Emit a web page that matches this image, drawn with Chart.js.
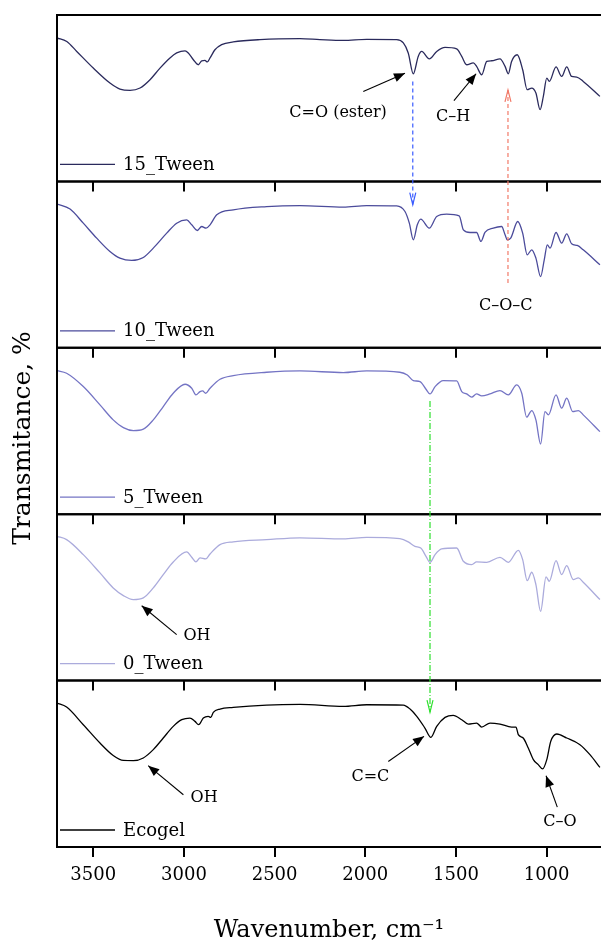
<!DOCTYPE html>
<html>
<head>
<meta charset="utf-8">
<script src="https://cdn.jsdelivr.net/npm/chart.js@4.4.1/dist/chart.umd.min.js"></script>
<style>
  html, body { margin: 0; padding: 0; background: #fff; overflow: hidden; }
  canvas { display: block; }
</style>
</head>
<body>
<canvas id="ftir" width="601" height="945"></canvas>
<script>
// x ticks (wavenumber, cm-1)
const xTicks = [3500, 3000, 2500, 2000, 1500, 1000];

const seriesNames = ["15_Tween", "10_Tween", "5_Tween", "0_Tween", "Ecogel"];
const seriesColors = ["#2a2a5c", "#4b4b9b", "#7474c4", "#ababdc", "#000000"];

// transmittance (0 = panel bottom, 100 = panel top)
const wn15 = [3700, 3646, 3591, 3500, 3408, 3353, 3297, 3242, 3187, 3132, 3077, 3040, 2994, 2976, 2948, 2921, 2902, 2884, 2871, 2856, 2829, 2792, 2728, 2581, 2360, 2250, 2121, 1992, 1827, 1790, 1763, 1735, 1708, 1689, 1647, 1606, 1560, 1496, 1468, 1441, 1404, 1386, 1358, 1330, 1303, 1257, 1229, 1211, 1193, 1162, 1132, 1107, 1082, 1059, 1036, 1018, 999, 985, 948, 917, 889, 862, 834, 798, 706];
const t15 = [86.2, 84.1, 78.1, 68.1, 59.1, 55.5, 54.7, 56.1, 61.1, 68.1, 74.2, 77.2, 78.5, 77.2, 73.1, 70.1, 72.5, 72.7, 71.8, 74.2, 79.1, 82.2, 83.8, 85.2, 85.8, 85.2, 84.7, 85.3, 85.2, 83.2, 77.2, 64.7, 75.1, 78.1, 73.6, 78.1, 80.5, 79.6, 75.1, 70.1, 71.2, 69.1, 64.1, 72.1, 72.5, 73.6, 69.1, 64.7, 72.1, 76.1, 67.1, 55.1, 56.1, 53.1, 43.1, 51.1, 62.1, 60.1, 68.8, 63.1, 68.8, 63.1, 62.7, 60.1, 51.1];

const wn10 = [3700, 3628, 3555, 3481, 3408, 3353, 3288, 3224, 3169, 3095, 3040, 2985, 2957, 2926, 2902, 2878, 2856, 2819, 2728, 2544, 2360, 2121, 1992, 1827, 1781, 1757, 1735, 1713, 1694, 1647, 1606, 1551, 1482, 1459, 1422, 1386, 1362, 1340, 1294, 1248, 1229, 1217, 1198, 1159, 1132, 1107, 1082, 1059, 1033, 1013, 996, 981, 948, 917, 889, 862, 831, 798, 706];
const t10 = [86.4, 83.4, 74.9, 65.9, 57.9, 53.9, 52.5, 54.3, 59.9, 68.9, 74.9, 76.9, 73.9, 70.5, 72.9, 71.9, 73.9, 79.9, 82.9, 84.9, 85.5, 84.6, 85.5, 85.3, 81.9, 74.9, 64.9, 73.9, 77.3, 71.9, 78.9, 80.3, 79.3, 70.9, 69.3, 69.3, 63.9, 69.3, 71.9, 72.9, 67.9, 64.9, 65.9, 75.9, 68.9, 55.9, 58.9, 53.9, 42.8, 52.9, 61.9, 59.9, 69.3, 62.9, 68.5, 62.5, 61.5, 58.9, 49.9];

const wn5 = [3700, 3647, 3555, 3463, 3390, 3334, 3279, 3224, 3169, 3114, 3059, 2994, 2957, 2934, 2911, 2897, 2880, 2856, 2801, 2728, 2544, 2360, 2121, 1992, 1809, 1768, 1735, 1698, 1665, 1643, 1615, 1570, 1496, 1468, 1441, 1413, 1386, 1358, 1312, 1257, 1211, 1165, 1137, 1110, 1082, 1059, 1033, 1009, 990, 948, 917, 889, 856, 825, 798, 706];
const t5 = [86.3, 84.7, 76.7, 65.7, 56.7, 52.0, 50.2, 51.1, 56.7, 64.7, 72.7, 78.1, 75.7, 71.7, 73.7, 74.1, 72.7, 75.7, 81.1, 83.3, 85.3, 86.1, 85.1, 86.1, 85.3, 83.7, 80.3, 79.7, 75.1, 72.3, 76.7, 80.3, 80.1, 73.7, 72.3, 70.3, 72.3, 71.1, 72.3, 74.3, 71.7, 77.7, 72.7, 58.3, 62.3, 56.7, 42.2, 61.7, 59.7, 71.7, 63.7, 69.7, 61.7, 62.3, 59.7, 49.6];

const wn0 = [3700, 3647, 3555, 3463, 3390, 3334, 3279, 3224, 3169, 3114, 3059, 2985, 2957, 2934, 2911, 2880, 2856, 2801, 2728, 2544, 2360, 2121, 1992, 1809, 1763, 1726, 1694, 1665, 1643, 1615, 1579, 1496, 1459, 1413, 1386, 1330, 1257, 1211, 1156, 1132, 1107, 1082, 1059, 1033, 1003, 985, 948, 917, 889, 853, 825, 798, 706];
const t0 = [86.7, 84.7, 75.7, 64.7, 55.7, 51.1, 48.7, 49.7, 55.7, 63.7, 71.3, 77.3, 74.1, 71.3, 73.7, 73.1, 76.1, 81.7, 83.4, 84.7, 85.8, 85.2, 86.1, 85.3, 83.4, 80.7, 79.7, 74.7, 71.1, 75.7, 79.1, 79.7, 71.7, 69.7, 71.3, 71.1, 74.1, 71.1, 78.3, 72.7, 60.1, 65.1, 57.7, 41.6, 62.3, 59.7, 72.1, 63.7, 69.1, 60.7, 61.7, 59.1, 48.7];

const wnEco = [3700, 3647, 3555, 3463, 3390, 3334, 3279, 3224, 3169, 3114, 3059, 3012, 2967, 2939, 2919, 2893, 2866, 2852, 2838, 2801, 2728, 2544, 2360, 2121, 1992, 1790, 1753, 1716, 1671, 1638, 1606, 1560, 1515, 1468, 1432, 1386, 1358, 1312, 1257, 1193, 1169, 1156, 1129, 1101, 1073, 1046, 1022, 999, 977, 944, 889, 816, 761, 706];
const tEco = [86.5, 84.1, 73.5, 62.5, 55.0, 52.0, 51.9, 53.5, 58.5, 65.5, 72.5, 76.5, 77.5, 75.5, 73.5, 77.5, 78.5, 77.9, 80.9, 82.9, 83.9, 85.3, 85.7, 84.5, 85.5, 85.3, 82.9, 78.5, 71.5, 65.9, 72.5, 77.9, 79.1, 76.5, 73.9, 74.5, 72.1, 74.5, 73.9, 72.1, 72.1, 67.5, 65.5, 59.5, 52.5, 49.5, 46.9, 52.5, 63.5, 67.9, 65.5, 61.5, 55.5, 47.8];

const panelIds = ["y15", "y10", "y5", "y0", "yE"];
const wnSets = [wn15, wn10, wn5, wn0, wnEco];
const tSets = [t15, t10, t5, t0, tEco];

// band labels: text centre and arrow (tail -> tip), in wavenumber / panel units
const bandLabels = [
  { panel: "y15", text: "C=O (ester)", x: 2150, y: 41, tail: [2011, 54], tip: [1781, 65] },
  { panel: "y15", text: "C\u2013H", x: 1516, y: 39, tail: [1511, 48.5], tip: [1389, 64.7] },
  { panel: "y10", text: "C\u2013O\u2013C", x: 1225, y: 25 },
  { panel: "y0", text: "OH", x: 2928, y: 27, tail: [3040, 27.6], tip: [3233, 45] },
  { panel: "yE", text: "OH", x: 2889, y: 29.4, tail: [3003, 31.4], tip: [3197, 48.9] },
  { panel: "yE", text: "C=C", x: 1972, y: 42, tail: [1873, 51.4], tip: [1676, 66.5] },
  { panel: "yE", text: "C\u2013O", x: 926, y: 15.4, tail: [941, 24], tip: [1003, 42.8] }
];

// dashed guide lines between panels
const guideLines = [
  { x: 1738, from: ["y15", 60], to: ["y10", 86], color: "#3a5cff", dash: [4, 3] },
  { x: 1213, from: ["y10", 39], to: ["y15", 55], color: "#f27a68", dash: [4, 3] },
  { x: 1643, from: ["y5", 68], to: ["yE", 81], color: "#2ee02e", dash: [6, 2, 1, 2] }
];

const FONT = "DejaVu Serif";

function drawHead(ctx, x1, y1, x2, y2, len, half, filled) {
  const a = Math.atan2(y2 - y1, x2 - x1);
  const bx = x2 - len * Math.cos(a), by = y2 - len * Math.sin(a);
  const px = -Math.sin(a) * half, py = Math.cos(a) * half;
  ctx.beginPath();
  ctx.moveTo(bx + px, by + py);
  ctx.lineTo(x2, y2);
  ctx.lineTo(bx - px, by - py);
  if (filled) {
    ctx.closePath();
    ctx.fill();
  } else {
    ctx.stroke();
  }
}

const panelPlugin = {
  id: "panelFrames",
  afterDraw(chart) {
    const ctx = chart.ctx;
    const xs = chart.scales.x;
    const area = chart.chartArea;
    ctx.save();

    // frames, inner ticks, legends
    panelIds.forEach((id, i) => {
      const s = chart.scales[id];
      ctx.strokeStyle = "#000";
      ctx.lineWidth = 2;
      ctx.setLineDash([]);
      ctx.beginPath();
      ctx.moveTo(area.right + 3, s.top);
      ctx.lineTo(area.left, s.top);
      ctx.lineTo(area.left, s.bottom);
      ctx.lineTo(area.right + 3, s.bottom);
      ctx.stroke();
      if (i < panelIds.length - 1) {
        ctx.beginPath();
        xTicks.forEach(v => {
          const px = Math.round(xs.getPixelForValue(v));
          ctx.moveTo(px, s.bottom);
          ctx.lineTo(px, s.bottom + 10);
        });
        ctx.stroke();
      }
      const ds = chart.data.datasets[i];
      const ly = s.bottom - 17;
      ctx.strokeStyle = ds.borderColor;
      ctx.lineWidth = 1.3;
      ctx.beginPath();
      ctx.moveTo(area.left + 3, ly);
      ctx.lineTo(area.left + 58, ly);
      ctx.stroke();
      ctx.fillStyle = "#000";
      ctx.font = "18px '" + FONT + "'";
      ctx.textAlign = "left";
      ctx.textBaseline = "middle";
      ctx.fillText(ds.label, area.left + 66, ly + 1);
    });

    // guide lines
    guideLines.forEach(g => {
      const px = xs.getPixelForValue(g.x);
      const y1 = chart.scales[g.from[0]].getPixelForValue(g.from[1]);
      const y2 = chart.scales[g.to[0]].getPixelForValue(g.to[1]);
      ctx.strokeStyle = g.color;
      ctx.lineWidth = 1.2;
      ctx.setLineDash(g.dash);
      ctx.beginPath();
      ctx.moveTo(px, y1);
      ctx.lineTo(px, y2);
      ctx.stroke();
      ctx.setLineDash([]);
      drawHead(ctx, px, y1, px, y2, 12, 3, false);
    });

    // band labels and arrows
    ctx.fillStyle = "#000";
    ctx.strokeStyle = "#000";
    ctx.font = "16px '" + FONT + "'";
    ctx.textAlign = "center";
    ctx.textBaseline = "middle";
    bandLabels.forEach(b => {
      const ys = chart.scales[b.panel];
      ctx.fillText(b.text, xs.getPixelForValue(b.x), ys.getPixelForValue(b.y));
      if (b.tail) {
        const x1 = xs.getPixelForValue(b.tail[0]), y1 = ys.getPixelForValue(b.tail[1]);
        const x2 = xs.getPixelForValue(b.tip[0]), y2 = ys.getPixelForValue(b.tip[1]);
        ctx.lineWidth = 1.1;
        ctx.beginPath();
        ctx.moveTo(x1, y1);
        ctx.lineTo(x2, y2);
        ctx.stroke();
        drawHead(ctx, x1, y1, x2, y2, 11, 4.5, true);
      }
    });

    // y title
    ctx.font = "25px '" + FONT + "'";
    ctx.translate(23, (area.top + area.bottom) / 2 + 7);
    ctx.rotate(-Math.PI / 2);
    ctx.fillText("Transmitance, %", 0, 0);
    ctx.restore();
  }
};

const yPanel = () => ({
  type: "linear",
  display: false,
  stack: "panels",
  stackWeight: 1,
  min: 0,
  max: 100
});

const datasets = seriesNames.map((name, i) => ({
  label: name,
  data: wnSets[i].map((w, j) => ({ x: w, y: tSets[i][j] })),
  yAxisID: panelIds[i],
  borderColor: seriesColors[i],
  borderWidth: 1.3,
  pointRadius: 0,
  fill: false,
  cubicInterpolationMode: "monotone"
}));

new Chart(document.getElementById("ftir"), {
  type: "line",
  data: { datasets: datasets },
  options: {
    responsive: false,
    animation: false,
    devicePixelRatio: 1,
    layout: { padding: { left: 57, top: 15, right: 0, bottom: 0 } },
    plugins: { legend: { display: false }, tooltip: { enabled: false } },
    scales: {
      x: {
        type: "linear",
        reverse: true,
        min: 700,
        max: 3700,
        afterBuildTicks: s => { s.ticks = xTicks.map(v => ({ value: v })); },
        afterFit: s => { s.height = 98; },
        grid: { drawOnChartArea: false, drawTicks: true, tickLength: 10, color: "#000", lineWidth: 2 },
        border: { display: false },
        ticks: { color: "#000", font: { family: FONT, size: 18 }, padding: 8, maxRotation: 0, autoSkip: false, callback: v => String(v) },
        title: { display: true, text: "Wavenumber, cm\u207B\u00B9", color: "#000", font: { family: FONT, size: 24 }, padding: { top: 0, bottom: 0 } }
      },
      yE: yPanel(),
      y0: yPanel(),
      y5: yPanel(),
      y10: yPanel(),
      y15: yPanel()
    }
  },
  plugins: [panelPlugin]
});
</script>
</body>
</html>
